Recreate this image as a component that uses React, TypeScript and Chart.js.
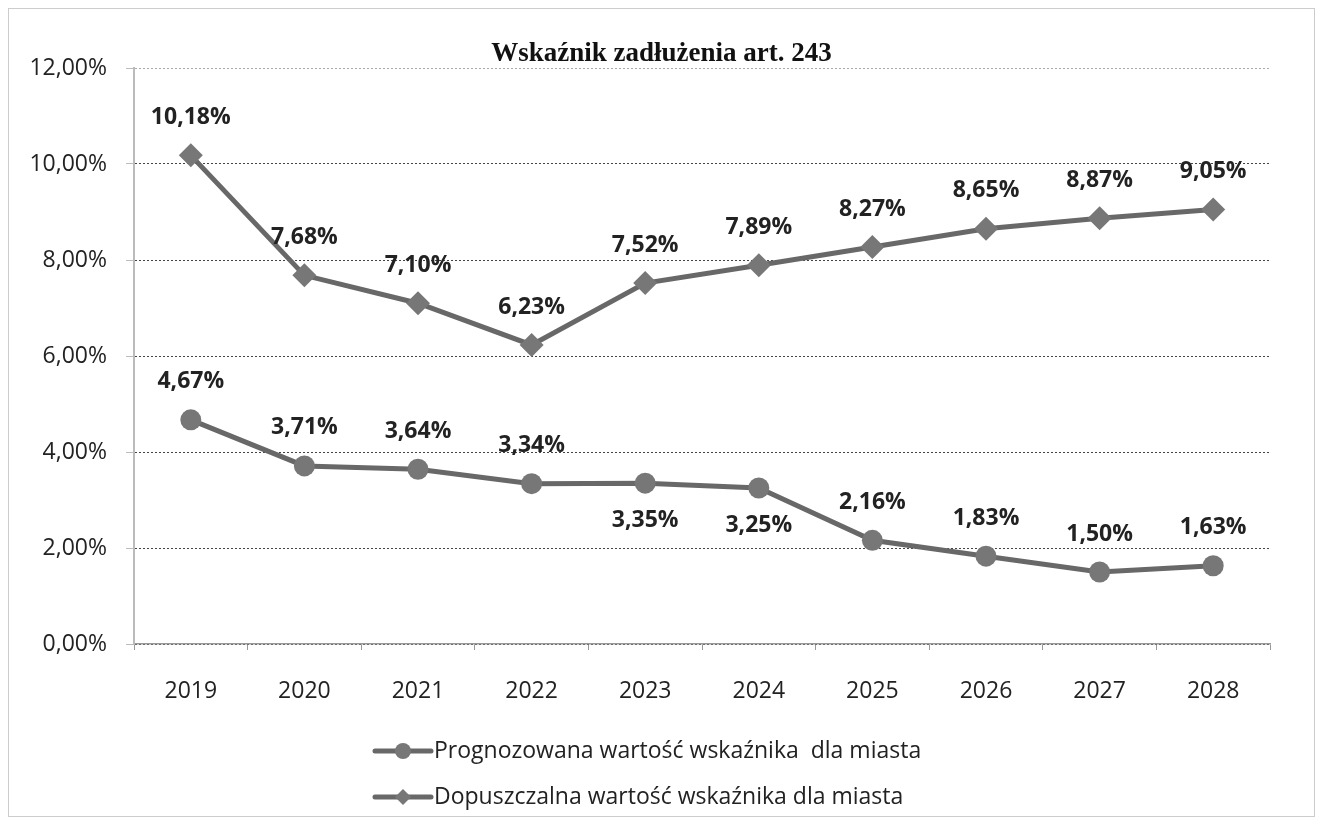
import React, { useEffect, useRef } from "react";
import { Chart, registerables } from "chart.js";

Chart.register(...registerables);

const TITLE = "Wskaźnik zadłużenia art. 243";
const years = ["2019", "2020", "2021", "2022", "2023", "2024", "2025", "2026", "2027", "2028"];
const prognozowana = [4.67, 3.71, 3.64, 3.34, 3.35, 3.25, 2.16, 1.83, 1.5, 1.63];
const dopuszczalna = [10.18, 7.68, 7.1, 6.23, 7.52, 7.89, 8.27, 8.65, 8.87, 9.05];
const prognozowanaLabelBelow = [false, false, false, false, true, true, false, false, false, false];
const seriesNames = [
  "Prognozowana wartość wskaźnika  dla miasta",
  "Dopuszczalna wartość wskaźnika dla miasta",
];
const yTicks = [0, 2, 4, 6, 8, 10, 12];

const LINE = "#686868";
const MARK = "#777777";
const FONT = "'Open Sans', 'Liberation Sans', sans-serif";

const fmt = (v: number) => v.toFixed(2).replace(".", ",") + "%";

const labelsPlugin = {
  id: "customLabels",
  afterDatasetsDraw(chart: any) {
    const ctx = chart.ctx;
    ctx.save();
    ctx.font = `bold 23px ${FONT}`;
    ctx.fillStyle = "#222";
    ctx.textAlign = "center";
    ctx.textBaseline = "middle";
    chart.data.datasets.forEach((ds: any, di: number) => {
      const meta = chart.getDatasetMeta(di);
      meta.data.forEach((pt: any, i: number) => {
        const below = di === 0 && prognozowanaLabelBelow[i];
        const y = below ? pt.y + 37 : pt.y - 38;
        ctx.fillText(fmt(ds.data[i]), pt.x, y);
      });
    });
    ctx.restore();
  },
  afterDraw(chart: any) {
    const ctx = chart.ctx;
    ctx.save();
    // title
    ctx.font = `bold 27px 'Liberation Serif', 'Times New Roman', serif`;
    ctx.fillStyle = "#111";
    ctx.textAlign = "center";
    ctx.textBaseline = "middle";
    ctx.fillText(TITLE, chart.width / 2, 45);
    // legend
    const x0 = 366;
    const rows = [742, 788];
    const styles = ["circle", "rectRot"];
    rows.forEach((y, i) => {
      ctx.strokeStyle = LINE;
      ctx.lineWidth = 5;
      ctx.lineCap = "round";
      ctx.beginPath();
      ctx.moveTo(x0, y);
      ctx.lineTo(x0 + 56, y);
      ctx.stroke();
      ctx.fillStyle = MARK;
      ctx.beginPath();
      if (styles[i] === "circle") {
        ctx.arc(x0 + 28, y, 8, 0, Math.PI * 2);
      } else {
        ctx.moveTo(x0 + 28, y - 8);
        ctx.lineTo(x0 + 36, y);
        ctx.lineTo(x0 + 28, y + 8);
        ctx.lineTo(x0 + 20, y);
        ctx.closePath();
      }
      ctx.fill();
      ctx.font = `23px ${FONT}`;
      ctx.fillStyle = "#222";
      ctx.textAlign = "left";
      ctx.fillText(seriesNames[i], x0 + 59, y);
    });
    ctx.restore();
  },
};

export default function App() {
  const ref = useRef<HTMLCanvasElement | null>(null);
  useEffect(() => {
    if (!ref.current) return;
    const chart = new Chart(ref.current, {
      type: "line",
      data: {
        labels: years,
        datasets: [
          {
            label: seriesNames[0],
            data: prognozowana,
            borderColor: LINE,
            backgroundColor: MARK,
            borderWidth: 5,
            pointStyle: "circle",
            pointRadius: 10.5,
            pointBorderWidth: 0,
            pointBackgroundColor: MARK,
          },
          {
            label: seriesNames[1],
            data: dopuszczalna,
            borderColor: LINE,
            backgroundColor: MARK,
            borderWidth: 5,
            pointStyle: "rectRot",
            pointRadius: 12,
            pointBorderWidth: 0,
            pointBackgroundColor: MARK,
          },
        ],
      },
      plugins: [labelsPlugin],
      options: {
        animation: false,
        responsive: true,
        maintainAspectRatio: false,
        layout: { padding: { top: 59, right: 44, bottom: 112, left: 0 } },
        plugins: {
          legend: { display: false },
          title: { display: false },
          tooltip: { enabled: false },
        },
        scales: {
          x: {
            offset: true,
            grid: {
              offset: true,
              display: true,
              drawOnChartArea: false,
              drawTicks: true,
              tickLength: 6,
              color: "#999",
            },
            border: { color: "#999", width: 1.5 },
            ticks: {
              padding: 28,
              color: "#222",
              font: { family: FONT, size: 23 },
              maxRotation: 0,
            },
            afterFit: (s: any) => {
              s.height = 60;
            },
          },
          y: {
            min: 0,
            max: 12,
            afterBuildTicks: (s: any) => {
              s.ticks = yTicks.map((v) => ({ value: v }));
            },
            grid: {
              color: (c: any) => (c.tick && c.tick.value === 12 ? "#aaa" : "#444"),
              lineWidth: 1,
              tickLength: 8,
              tickColor: "#bbb",
              tickBorderDash: [],
            },
            border: { color: "#bbb", width: 2, dash: [2, 2] },
            ticks: {
              padding: 19,
              color: "#222",
              font: { family: FONT, size: 23 },
              callback: (v: any) => fmt(Number(v)),
            },
            afterFit: (s: any) => {
              s.width = 125;
            },
          },
        },
      },
    });
    return () => chart.destroy();
  }, []);
  return (
    <div style={{ width: 1307, height: 809, position: "relative", boxSizing: "border-box", border: "1px solid #ccc" }}>
      <canvas ref={ref} />
    </div>
  );
}
